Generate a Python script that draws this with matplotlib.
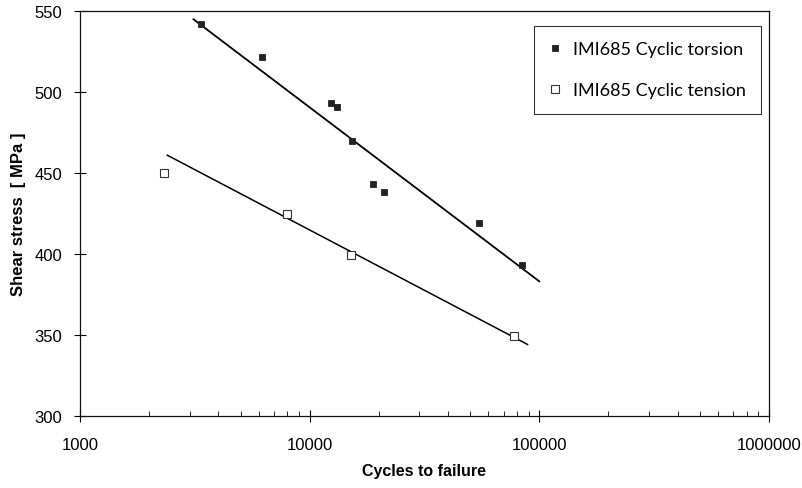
import matplotlib
matplotlib.use("Agg")
import matplotlib.pyplot as plt
from matplotlib.ticker import FixedLocator, FuncFormatter, LogLocator, NullFormatter

# data
torsion_cycles = [3380, 6220, 12400, 13150, 15350, 18960, 20990, 54400, 84500]
torsion_stress = [542, 521.5, 493, 491, 469.5, 443.5, 438.5, 419, 393]

tension_cycles = [2320, 8000, 15170, 77800]
tension_stress = [450, 424.5, 399.5, 349]

# trend lines, start and end as drawn in the original
torsion_trend_cycles = [3120, 100000]
torsion_trend_stress = [545, 383]
tension_trend_cycles = [2400, 88900]
tension_trend_stress = [461, 344]

x_ticks = [1000, 10000, 100000, 1000000]
y_ticks = [300, 350, 400, 450, 500, 550]

plt.rcParams['font.family'] = ['Liberation Sans', 'DejaVu Sans']

fig = plt.figure(figsize=(8.03, 4.89), dpi=100)
ax = fig.add_axes([0.0996, 0.148, 0.858, 0.827])

# trend lines
ax.plot(torsion_trend_cycles, torsion_trend_stress, color='black', lw=1.3, zorder=2)
ax.plot(tension_trend_cycles, tension_trend_stress, color='black', lw=1.1, zorder=2)

# measured points
ax.plot(torsion_cycles, torsion_stress, ls='none', marker='s', ms=5,
        mfc='#222222', mec='#222222', mew=0.6, label='IMI685 Cyclic torsion', zorder=3)
ax.plot(tension_cycles, tension_stress, ls='none', marker='s', ms=6.3,
        mfc='white', mec='#333333', mew=0.8, label='IMI685 Cyclic tension', zorder=3)

ax.set_xscale('log')
ax.set_xlim(1000, 1000000)
ax.set_ylim(300, 550)

ax.xaxis.set_major_locator(FixedLocator(x_ticks))
ax.xaxis.set_major_formatter(FuncFormatter(lambda v, p: f"{int(round(v))}"))
ax.xaxis.set_minor_locator(LogLocator(base=10, subs=range(2, 10)))
ax.xaxis.set_minor_formatter(NullFormatter())
ax.yaxis.set_major_locator(FixedLocator(y_ticks))

ax.tick_params(axis='both', which='major', direction='inout', length=8, width=0.8,
               labelsize=12)
ax.tick_params(axis='y', which='major', pad=9)
ax.tick_params(axis='x', which='major', pad=11.5)
ax.tick_params(axis='x', which='minor', direction='in', length=3.5, width=0.6)

for s in ax.spines.values():
    s.set_linewidth(0.9)
    s.set_color('#111111')

ax.set_xlabel('Cycles to failure', fontsize=11.5, fontweight='bold', labelpad=8)
ax.set_ylabel('Shear stress  [ MPa ]', fontsize=12, fontweight='bold', labelpad=6)

leg = ax.legend(loc='upper right', bbox_to_anchor=(0.989, 0.964),
                frameon=True, fancybox=False, edgecolor='black', handlelength=0.6,
                handletextpad=0.7, borderpad=0.85, labelspacing=1.4, borderaxespad=0,
                prop={'family': ['Lato', 'DejaVu Sans'], 'size': 13})
leg.get_frame().set_linewidth(0.8)

plt.savefig('out.png', dpi=100)
